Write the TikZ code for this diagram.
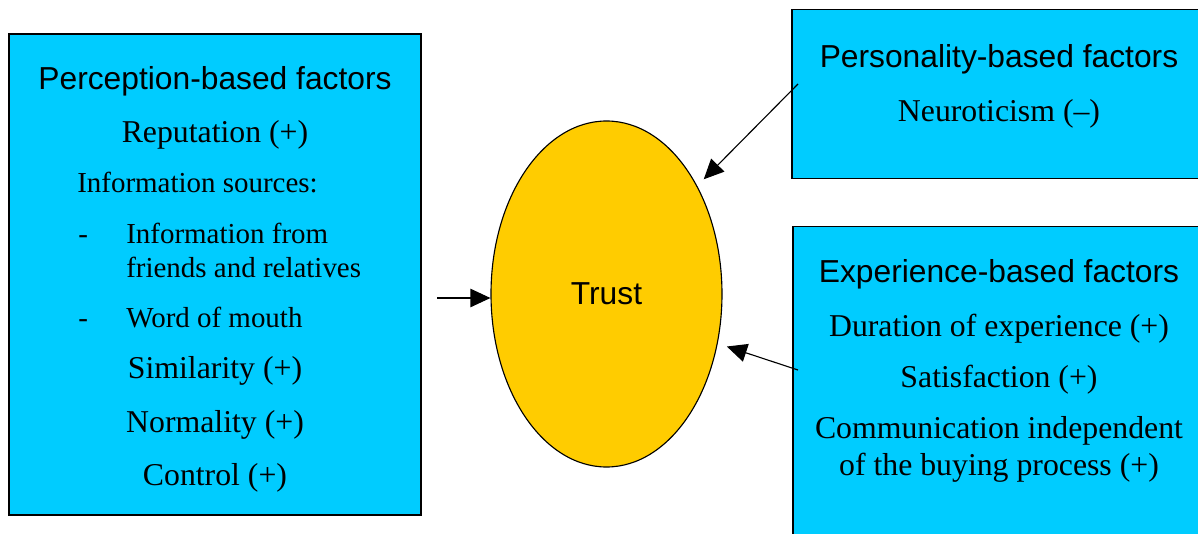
\documentclass[tikz,border=0pt]{standalone}
\usepackage{fontspec}
\setmainfont{Liberation Serif}
\newfontfamily\headfont{Liberation Sans}
\usetikzlibrary{shapes.geometric,arrows.meta}
\definecolor{boxblue}{HTML}{00CCFF}
\definecolor{trustgold}{HTML}{FFCC00}
\begin{document}
\begin{tikzpicture}
\tikzstyle{factorbox}=[draw, fill=boxblue, line width=0.9pt, inner sep=0pt]
\tikzstyle{head}=[anchor=base, font=\headfont\fontsize{22.6}{27}\selectfont, inner sep=0pt]
\tikzstyle{item}=[anchor=base, font=\fontsize{22.6}{27}\selectfont, inner sep=0pt]
\tikzstyle{subitem}=[anchor=base west, font=\fontsize{20.6}{25}\selectfont, inner sep=0pt]
\tikzstyle{arr}=[line width=0.8pt, -{Triangle[length=0.5cm, width=0.46cm]}]
    \clip (0,0) rectangle (29.95,13.325);

    % the three boxes of factors (the right ones run off the page)
    \node[factorbox, minimum width=10.3cm, minimum height=12.025cm] (perc) at (5.375,6.4625) {};
    \node[factorbox, minimum width=10.5cm, minimum height=4.225cm] (pers) at (25.05,10.97) {};
    \node[factorbox, minimum width=10.5cm, minimum height=7.9675cm] (exp) at (25.075,3.68375) {};

    \node[draw, ellipse, fill=trustgold, line width=0.8pt, inner sep=0pt,
          minimum width=5.775cm, minimum height=8.65cm,
          font=\headfont\fontsize{22.6}{27}\selectfont] (trust) at (15.1625,5.975) {Trust};

    % perception-based
    \node[head] (perctitle) at (5.375,11.075) {Perception-based factors};
    \node[item] (reput) at (5.375,9.75) {Reputation (+)};
    \node[subitem] (infosrc) at (1.925,8.5) {Information sources:};
    \node[subitem] (dasha) at (1.95,7.25) {-};
    \node[subitem] (friends) at (3.15,7.25) {Information from};
    \node[subitem] (friendsb) at (3.15,6.4) {friends and relatives};
    \node[subitem] (dashb) at (1.95,5.15) {-};
    \node[subitem] (mouth) at (3.15,5.15) {Word of mouth};
    \node[item] (simil) at (5.375,3.875) {Similarity (+)};
    \node[item] (normal) at (5.375,2.525) {Normality (+)};
    \node[item] (control) at (5.375,1.2) {Control (+)};

    % personality-based
    \node[head] (perstitle) at (24.975,11.6425) {Personality-based factors};
    \node[item] (neuro) at (24.975,10.2925) {Neuroticism (--)};

    % experience-based
    \node[head] (exptitle) at (24.975,6.2675) {Experience-based factors};
    \node[item] (durat) at (24.975,4.925) {Duration of experience (+)};
    \node[item] (satis) at (24.975,3.6425) {Satisfaction (+)};
    \node[item] (commun) at (24.975,2.3675) {Communication independent};
    \node[item] (communb) at (24.975,1.4275) {of the buying process (+)};

    \coordinate (fromperc) at (10.925,5.875);
    \coordinate (frompers) at (19.95,11.225);
    \coordinate (fromexp) at (19.95,4.075);

    \draw[arr] (fromperc) -- (fromperc -| trust.west);
    \draw[arr, shorten >=0.23cm] (frompers) -- (trust.50);
    \draw[arr, shorten >=0.24cm] (fromexp) -- (trust.-24);

\end{tikzpicture}
\end{document}
